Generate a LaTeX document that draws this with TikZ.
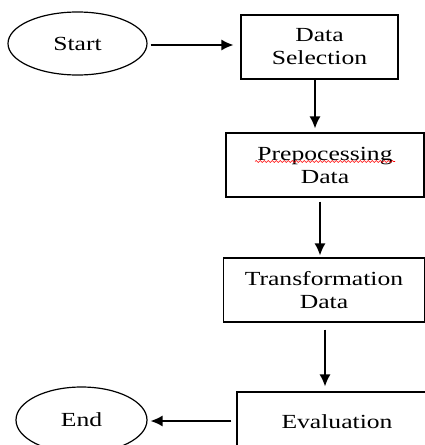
\documentclass[tikz,border=0pt]{standalone}
\usepackage{fontspec}
\setmainfont{Liberation Serif}[FakeStretch=1.28]
\usetikzlibrary{shapes.geometric,arrows.meta,decorations.pathmorphing}

\tikzset{
  startstop/.style={draw,ellipse,line width=1.2bp,inner sep=0pt},
  procbox/.style={draw,rectangle,line width=1.2bp,align=center,inner sep=0pt},
  flowarrow/.style={-{Latex[length=12bp,width=11bp]},line width=1.3bp}
}

\begin{document}
\begin{tikzpicture}[font=\fontsize{20bp}{23bp}\selectfont]
  \useasboundingbox (0bp,0bp) rectangle (425bp,-445bp);
  \node (Start) at (77.5bp,-43.5bp) [startstop,minimum width=139bp,minimum height=63bp] {Start};
  \node (DataSelection) at (319.5bp,-47bp) [procbox,minimum width=157bp,minimum height=64bp] {Data\\Selection};
  \node (Prepocessing) at (325bp,-165bp) [procbox,minimum width=198bp,minimum height=64bp] {Prepocessing\\Data};
  \node (Transformation) at (324bp,-290bp) [procbox,minimum width=201bp,minimum height=64bp] {Transformation\\Data};
  \node (Evaluation) at (337bp,-422bp) [procbox,minimum width=200bp,minimum height=60bp] {Evaluation};
  \node (End) at (81.5bp,-420bp) [startstop,minimum width=131bp,minimum height=66bp] {End};
  % spell check mark
  \draw [red,line width=0.6bp,decorate,decoration={snake,amplitude=1bp,segment length=4bp}] ([xshift=-70bp,yshift=3.5bp]Prepocessing.center) -- ([xshift=70bp,yshift=3.5bp]Prepocessing.center);
  \draw [flowarrow,shorten <=3bp,shorten >=7bp] (Start.east |- 0,-45bp) -- (DataSelection.west |- 0,-45bp);
  \draw [flowarrow,shorten >=4bp] ([xshift=-4.5bp]DataSelection.south) -- ([xshift=-4.5bp]DataSelection.south |- Prepocessing.north);
  \draw [flowarrow,shorten <=4bp,shorten >=2bp] ([xshift=-5bp]Prepocessing.south) -- ([xshift=-5bp]Prepocessing.south |- Transformation.north);
  \draw [flowarrow,shorten <=7bp,shorten >=5bp] ([xshift=1bp]Transformation.south) -- ([xshift=1bp]Transformation.south |- Evaluation.north);
  \draw [flowarrow,shorten <=5bp,shorten >=3bp] (Evaluation.west |- 0,-421bp) -- (End.east |- 0,-421bp);
\end{tikzpicture}
\end{document}
